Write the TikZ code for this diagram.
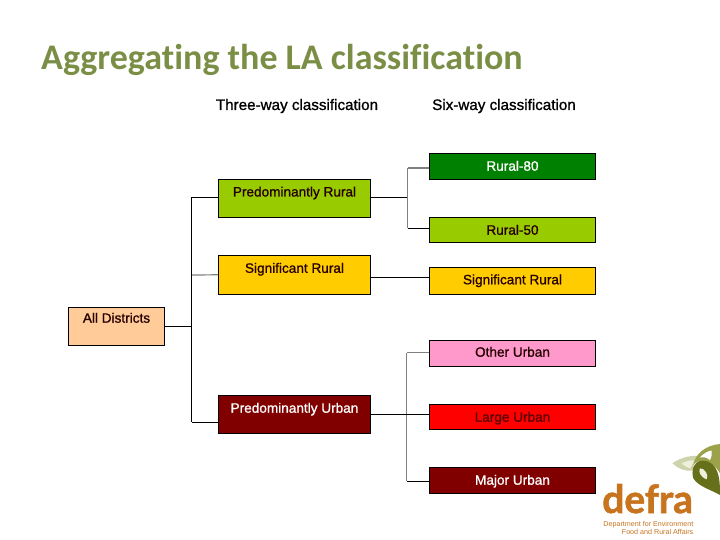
\documentclass[tikz,border=0pt]{standalone}
\usepackage{fontspec}
\setmainfont{Liberation Sans}
\newfontfamily\titlefont[Ligatures=NoCommon]{Carlito}
\newfontfamily\labfont[FakeBold=1.0,Ligatures=NoCommon]{Liberation Sans}
\newfontfamily\logofont[Ligatures=NoCommon,BoldFeatures={FakeBold=1.5}]{Lato}
\definecolor{titlegreen}{HTML}{7A8F45}
\definecolor{peach}{HTML}{FFCC99}
\definecolor{limeg}{HTML}{99CC00}
\definecolor{amber}{HTML}{FFCC00}
\definecolor{maroon}{HTML}{800000}
\definecolor{darkg}{HTML}{008000}
\definecolor{pinkb}{HTML}{FF99CC}
\definecolor{redb}{HTML}{FF0000}
\definecolor{defraorange}{HTML}{C8731E}
\definecolor{leaflight}{HTML}{CDD3AC}
\definecolor{leafeye}{HTML}{EEF0DC}
\definecolor{leafmid}{HTML}{9BA24A}
\definecolor{leafdark}{HTML}{66701A}
\newcommand{\lbl}[2]{\raisebox{#1pt}[0pt][0pt]{#2}}
\tikzset{
  box/.style={draw=black,line width=1pt,inner sep=0pt,font=\labfont\fontsize{13.6}{14}\selectfont,text=black!85!red},
  wide/.style={box,minimum width=166pt},
  mid/.style={box,minimum width=152pt},
  link/.style={draw=black,line width=1pt},
  glink/.style={draw=black!50,line width=1.2pt},
  head/.style={font=\labfont\fontsize{15.2}{15}\selectfont,inner sep=0pt,anchor=base},
}
\begin{document}
\begin{tikzpicture}[x=1pt,y=-1pt]
\useasboundingbox (0,0) rectangle (720,540);
\node[font=\titlefont\bfseries\fontsize{36}{36}\selectfont,text=titlegreen,anchor=base west,inner sep=0pt] (title) at (41,69.5) {Aggregating the LA classification};
\node[head] (h3) at (297,110) {Three-way classification};
\node[head] (h6) at (504,110) {Six-way classification};
% first level
\node[box,fill=peach,minimum width=96pt,minimum height=38pt] (all) at (116.5,326) {\lbl{3.3}{All Districts}};
\node[mid,fill=limeg,minimum height=38pt] (pr) at (294.5,198.4) {\lbl{1.9}{Predominantly Rural}};
\node[mid,fill=amber,minimum height=39pt] (sr) at (294.5,274.8) {\lbl{2}{Significant Rural}};
\node[mid,fill=maroon,minimum height=38pt,text=white] (pu) at (294.5,414.3) {\lbl{1.6}{Predominantly Urban}};
% second level
\node[wide,fill=darkg,minimum height=26pt,text=white] (r80) at (512.5,166.3) {\lbl{-4.4}{Rural-80}};
\node[wide,fill=limeg,minimum height=25pt] (r50) at (512.5,229.8) {\lbl{-4.9}{Rural-50}};
\node[wide,fill=amber,minimum height=27pt] (sr6) at (512.5,280.8) {\lbl{-3.5}{Significant Rural}};
\node[wide,fill=pinkb,minimum height=26pt] (ou) at (512.5,353.3) {\lbl{-3.4}{Other Urban}};
\node[wide,fill=redb,minimum height=25pt,text=maroon!70!black] (lu) at (512.5,416.8) {\lbl{-4.9}{Large Urban}};
\node[wide,fill=maroon,minimum height=26pt,text=white] (mu) at (512.5,480.3) {\lbl{-4.4}{Major Urban}};
% junctions
\coordinate (j1) at (191.7,326);
\coordinate (t1) at (191.7,197.3);
\coordinate (b1) at (191.7,422.3);
\coordinate (m1) at (191.7,275);
\coordinate (j2) at (407.7,197.3);
\coordinate (t2) at (407.7,168);
\coordinate (b2) at (407.7,228.3);
\coordinate (j3) at (406.7,414.3);
\coordinate (t3) at (406.7,352.7);
\coordinate (b3) at (406.7,481.3);
% connectors
\draw[link] (all.east) -- (j1);
\draw[glink] (m1) -- (sr.west);
\draw[link] (t1) -- (b1);
\draw[link] (t1) -- (t1 -| pr.west);
\draw[link] (b1) -- (b1 -| pu.west);
\draw[link] (j2 -| pr.east) -- (j2);
\draw[glink] (t2) -- (b2);
\draw[glink] (t2) -- (t2 -| r80.west);
\draw[link] (b2) -- (b2 -| r50.west);
\draw[link] (sr.east |- 0,277.2) -- (sr6.west |- 0,277.2);
\draw[glink] (t3) -- (b3);
\draw[glink] (t3) -- (t3 -| ou.west);
\draw[link] (b3) -- (b3 -| mu.west);
\draw[link] (pu.east) -- (lu.west |- pu.east);
% logo
\node[font=\logofont\bfseries\fontsize{39}{40}\selectfont,text=defraorange,anchor=base west,inner sep=0pt] (defra) at (602,513) {defra};
\node[font=\fontsize{7.15}{7}\selectfont,text=defraorange,anchor=base east,inner sep=0pt] (d1) at (693.5,526) {Department for Environment};
\node[font=\fontsize{7.15}{7}\selectfont,text=defraorange,anchor=base east,inner sep=0pt] (d2) at (693.5,534) {Food and Rural Affairs};
\begin{scope}[shift={(665,440)},x=0.3333pt,y=-0.3333pt]
\fill[leaflight] (22,70) .. controls (50,50) and (85,45) .. (105,48) .. controls (92,60) and (85,72) .. (82,92) .. controls (60,95) and (38,85) .. (22,70) -- cycle;
\fill[leafeye] (50,70) .. controls (65,62) and (80,60) .. (88,62) .. controls (82,72) and (78,78) .. (76,85) .. controls (65,82) and (55,76) .. (50,70) -- cycle;
\fill[leafmid] (85,75) .. controls (90,40) and (125,15) .. (165,12) -- (165,100) .. controls (155,80) and (130,62) .. (110,62) .. controls (100,62) and (90,68) .. (85,75) -- cycle;
\fill[white] (105,52) .. controls (115,40) and (135,30) .. (140,32) .. controls (142,40) and (140,50) .. (135,60) .. controls (125,52) and (115,50) .. (105,52) -- cycle;
\fill[leafdark] (110,62) .. controls (85,65) and (78,90) .. (85,115) .. controls (100,140) and (140,150) .. (165,165) .. controls (165,130) and (165,80) .. (130,65) .. controls (122,62) and (116,62) .. (110,62) -- cycle;
\fill[leafeye] (105,85) .. controls (100,95) and (105,110) .. (125,118) .. controls (132,105) and (120,85) .. (105,85) -- cycle;
\end{scope}
\end{tikzpicture}
\end{document}
